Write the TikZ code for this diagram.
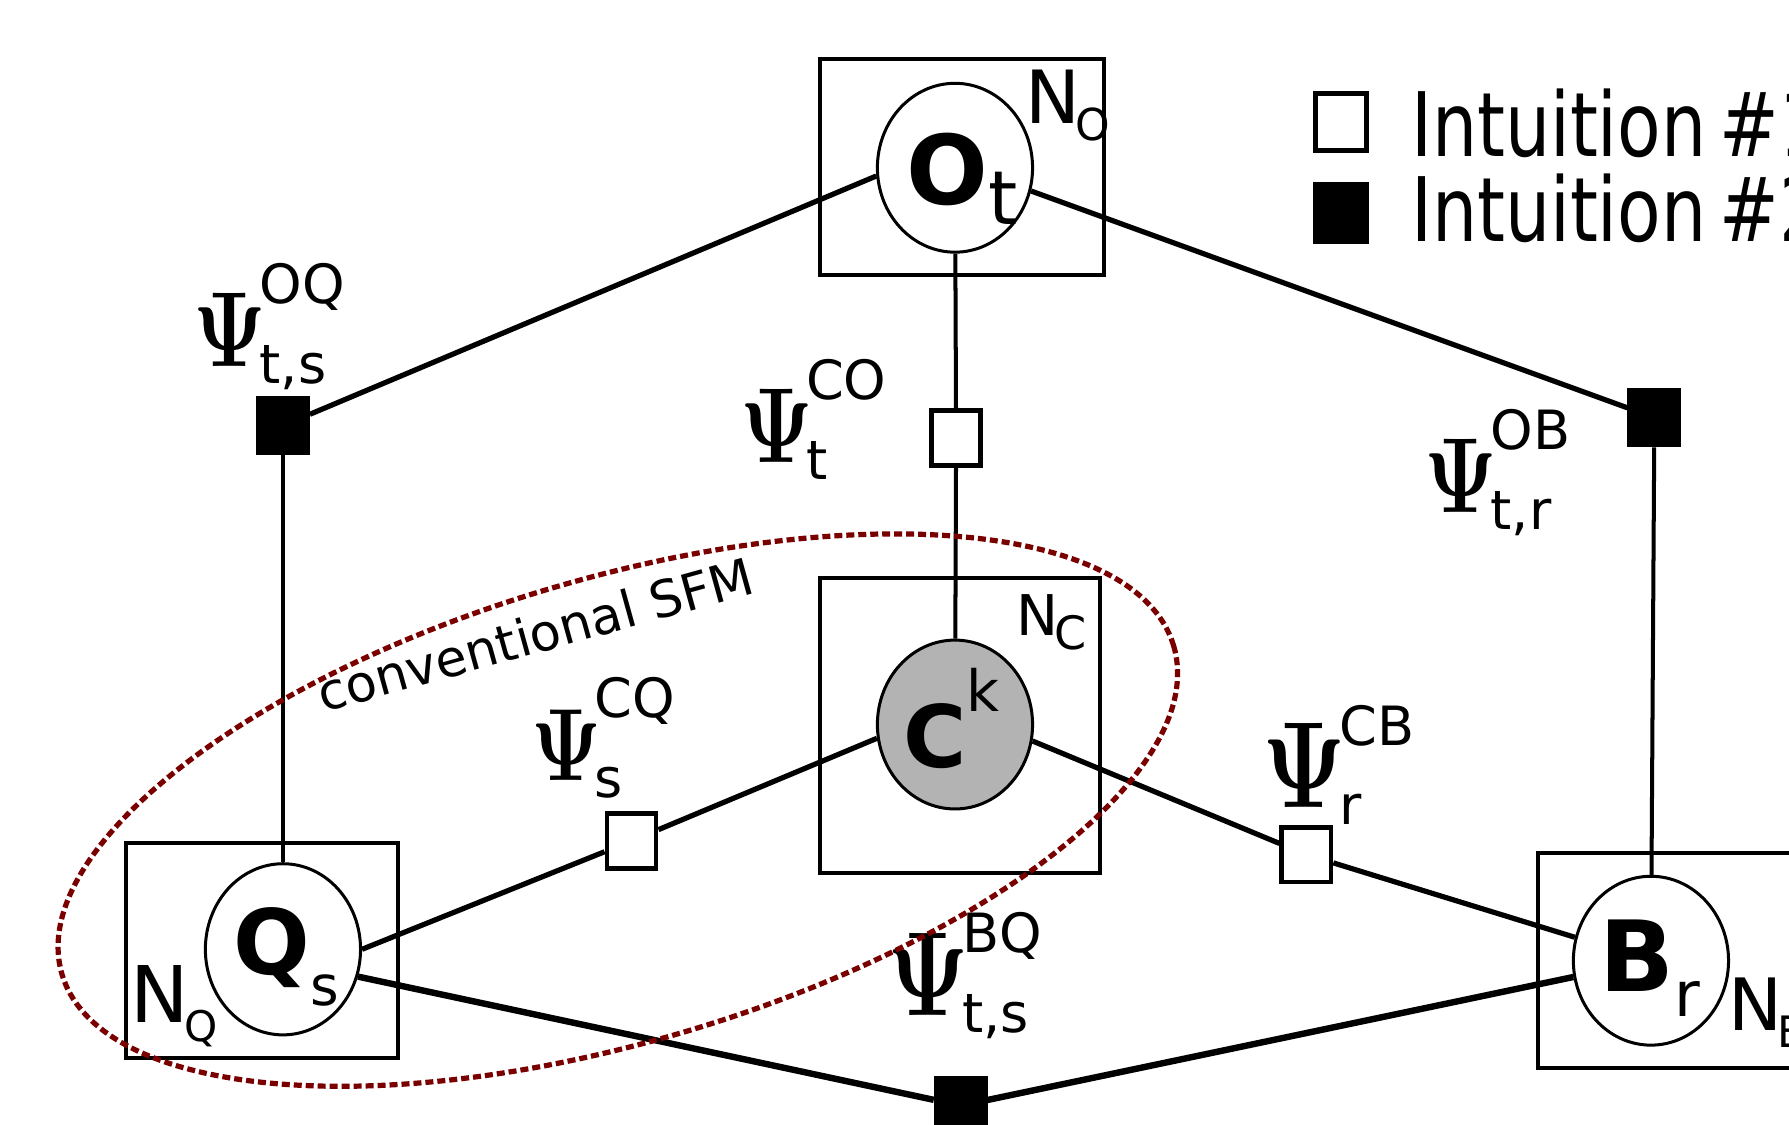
\documentclass[tikz,border=0pt]{standalone}
\usepackage[no-math]{fontspec}
\setmainfont{DejaVu Sans}
\usepackage{amsmath}
\usepackage{graphicx}
\usetikzlibrary{shapes.geometric}

\definecolor{sfmred}{RGB}{122,0,0}
\definecolor{obsgray}{RGB}{179,179,179}

% factor label: Psi with stacked super- and subscript
\newcommand{\psilab}[3][1.07]{\scalebox{0.78}[1]{\scalebox{#1}{\Huge$\mathbf{\Psi}$}}\hspace{-0.06cm}\rlap{\raisebox{0.55cm}{#2}}\raisebox{-0.15cm}{#3}}
% plate label N_x
\newcommand{\platelab}[2][0.6]{N\kern-0.06em\raisebox{-0.24em}{\scalebox{#1}{#2}}}

\tikzset{
  plate/.style={draw,line width=1pt},
  var/.style={ellipse,draw,line width=0.75pt,fill=white,minimum width=1.36cm,minimum height=1.48cm,inner sep=0pt},
  obs/.style={var,fill=obsgray},
  factor/.style={rectangle,draw,line width=1.2pt,minimum width=0.43cm,minimum height=0.48cm,inner sep=0pt},
  openfactor/.style={factor,fill=white},
  fullfactor/.style={factor,fill=black},
  vartext/.style={inner sep=0pt,font=\fontsize{24}{24}\selectfont},
  psi/.style={inner sep=0pt,anchor=base west,font=\fontsize{13.5}{13.5}\selectfont},
  platetext/.style={inner sep=0pt,anchor=base west,font=\fontsize{18.3}{18.3}\selectfont},
  link/.style={line width=1.3pt},
  vlink/.style={line width=1pt},
  blink/.style={line width=1.6pt},
  sfm/.style={draw=sfmred,line width=1.3pt,dash pattern=on 0.07cm off 0.035cm}
}

\begin{document}
\begin{tikzpicture}
\path[use as bounding box,clip] (0,0) rectangle (15.68,-9.86);

% plates
\draw[plate] (7.19,-0.52) rectangle (9.68,-2.41);
\draw[plate] (7.19,-5.07) rectangle (9.64,-7.65);
\draw[plate] (1.10,-7.39) rectangle (3.49,-9.27);
\draw[plate] (13.48,-7.48) rectangle (16.30,-9.36);
\node[platetext] (NO) at (8.98,-1.08) {\platelab{O}};
\node[platetext,font=\fontsize{14}{14}\selectfont] (NC) at (8.90,-5.57) {\platelab[0.82]{C}};
\node[platetext,font=\fontsize{19.5}{19.5}\selectfont] (NQ) at (1.14,-8.96) {\platelab[0.54]{Q}};
\node[platetext,font=\fontsize{18}{18}\selectfont] (NB) at (15.14,-9.03) {\platelab{B}};

% variables
\node[var] (Ot) at (8.37,-1.47) {};
\node[obs] (Ck) at (8.37,-6.35) {};
\node[var,minimum height=1.50cm] (Qs) at (2.48,-8.32) {};
\node[var] (Br) at (14.47,-8.42) {};
\node[vartext,font=\fontsize{24}{24}\selectfont] (OtText) at (8.43,-1.565) {\textbf{O}\raisebox{-0.18cm}{\fontsize{18.6}{18.6}\selectfont t}};
\node[vartext,font=\fontsize{21.5}{21.5}\selectfont] (CkText) at (8.34,-6.295) {\textbf{C}\raisebox{0.49cm}{\fontsize{14.2}{14.2}\selectfont k}};
\node[vartext,font=\fontsize{22.5}{22.5}\selectfont] (QsText) at (2.51,-8.39) {\textbf{Q}\raisebox{-0.27cm}{\fontsize{13.7}{13.7}\selectfont s}};
\node[vartext,font=\fontsize{24.5}{24.5}\selectfont] (BrText) at (14.46,-8.485) {\textbf{B}\raisebox{-0.22cm}{\fontsize{15.6}{15.6}\selectfont r}};

% factors
\node[fullfactor] (fOQ) at (2.48,-3.73) {};
\node[openfactor] (fCO) at (8.38,-3.84) {};
\node[fullfactor] (fOB) at (14.50,-3.66) {};
\node[openfactor] (fCQ) at (5.535,-7.37) {};
\node[openfactor] (fCB) at (11.45,-7.49) {};
\node[fullfactor] (fBQ) at (8.42,-9.69) {};

% factor labels
\node[psi] (psiOQ) at (1.69,-3.21) {\psilab{OQ}{t,s}};
\node[psi] (psiCO) at (6.48,-4.05) {\psilab{CO}{t}};
\node[psi] (psiOB) at (12.48,-4.49) {\psilab{OB}{t,r}};
\node[psi] (psiCQ) at (4.65,-6.84) {\psilab[1.03]{CQ}{s}};
\node[psi] (psiCB) at (11.06,-7.08) {\psilab[1.23]{CB}{r}};
\node[psi] (psiBQ) at (7.77,-8.90) {\psilab[1.2]{BQ}{t,s}};

% edges
\draw[link] (Ot.186) -- (fOQ);
\draw[link] (Ot.343) -- (fOB);
\draw[vlink] (Ot) -- (fCO);
\draw[vlink] (fCO) -- (Ck);
\draw[vlink] (fOQ) -- (Qs);
\draw[vlink] (fOB) -- (Br);
\draw[link] (Qs.east) -- (fCQ);
\draw[link] (fCQ) -- (Ck.190);
\draw[link] (Ck.348) -- (fCB);
\draw[link] (fCB) -- (Br);
\draw[blink] (Qs.340) -- (fBQ);
\draw[blink] (fBQ) -- (Br);

% conventional SFM
\draw[sfm,rotate around={16.45:(5.415,-7.10)}] (5.415,-7.10) ellipse (5.08 and 2.03);
\node[rotate=15.5,inner sep=0pt,font=\fontsize{12.7}{12.7}\selectfont] (sfmText) at (4.69,-5.56) {conventional SFM};

% legend
\node[openfactor,minimum width=0.45cm,minimum height=0.5cm] (legOpen) at (11.755,-1.07) {};
\node[fullfactor,minimum width=0.45cm,minimum height=0.5cm] (legFull) at (11.755,-1.865) {};
\node[inner sep=0pt,anchor=base west,font=\fontsize{22.2}{22.2}\selectfont] (legOpenText) at (12.36,-1.37) {\scalebox{0.8}[1]{Intuition\hspace{-0.1cm} \#1}};
\node[inner sep=0pt,anchor=base west,font=\fontsize{22.2}{22.2}\selectfont] (legFullText) at (12.36,-2.12) {\scalebox{0.8}[1]{Intuition\hspace{-0.1cm} \#2}};
\end{tikzpicture}
\end{document}
